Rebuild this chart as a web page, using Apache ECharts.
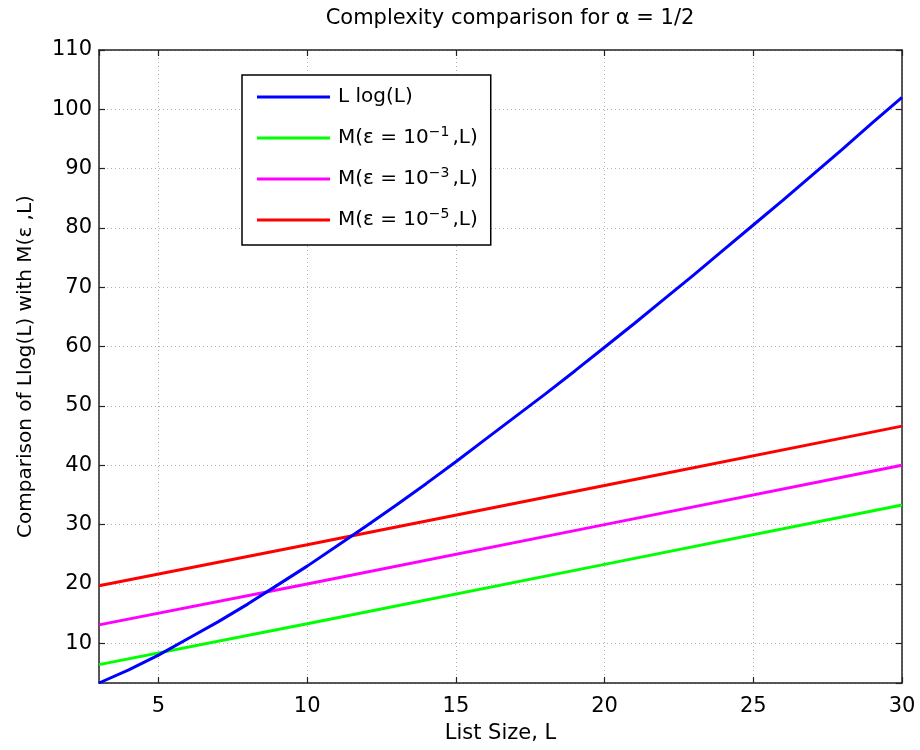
<!DOCTYPE html>
<html>
<head>
<meta charset="utf-8">
<script src="https://cdn.jsdelivr.net/npm/echarts@6/dist/echarts.min.js"></script>
<style>
html,body{margin:0;padding:0;background:#fff;}
#chart{width:920px;height:750px;}
</style>
</head>
<body>
<div id="chart"></div>
<script>
// ---- data ----
const titleText = 'Complexity comparison for α = 1/2';
const xAxisName = 'List Size, L';
const yAxisName = 'Comparison of Llog(L) with M(ε ,L)';

const blueL = [3,4,5,6,7,8,9,10,11,12,13,14,15,16,17,18,19,20,21,22,23,24,25,26,27,28,29,30];
const blueValues = [3.3,5.5,8.0,10.8,13.6,16.6,19.8,23.0,26.4,29.8,33.3,36.9,40.6,44.4,48.2,52.0,55.9,59.9,63.9,68.0,72.1,76.3,80.5,84.7,89.0,93.3,97.7,102.0];

const lineL = [3,10,20,30];
const greenValues = [6.4,13.3,23.3,33.3];
const magentaValues = [13.1,20.0,30.0,40.0];
const redValues = [19.7,26.6,36.6,46.6];

const seriesNames = ['L log(L)','M1','M3','M5'];
const legendLabels = {
  'L log(L)': '{t|L log(L)}',
  'M1': '{t|M(ε = 10}{s|−1}{t|,L)}',
  'M3': '{t|M(ε = 10}{s|−3}{t|,L)}',
  'M5': '{t|M(ε = 10}{s|−5}{t|,L)}'
};
const colors = ['#0000ff','#00ff00','#ff00ff','#ff0000'];

const xMin = 3, xMax = 30;
const yMin = 3.3, yMax = 110;

function pairs(xs, ys){ return xs.map((x,i)=>[x, ys[i]]); }

const FONT = '"DejaVu Sans", Verdana, sans-serif';
const axisColor = '#222';
const gridLine = {show:true, lineStyle:{color:'#b0b0b0', width:1, type:[1,3]}};

const chart = echarts.init(document.getElementById('chart'), null, {renderer:'canvas'});
chart.setOption({
  backgroundColor:'#fff',
  animation:false,
  title:{
    text:titleText, left:505, top:3, textAlign:'center',
    textStyle:{fontFamily:FONT, fontSize:21, fontWeight:'normal', color:'#000'}
  },
  grid:{left:99, right:18, top:50, bottom:67, containLabel:false},
  legend:{
    orient:'vertical', left:242, top:75,
    data:seriesNames.map((n,i)=>({name:n, icon:'rect', itemStyle:{color:colors[i]}})),
    itemWidth:73, itemHeight:3, itemGap:15,
    padding:[9,13,12,15],
    borderColor:'#000', borderWidth:1.5, backgroundColor:'#fff',
    formatter:function(n){ return legendLabels[n]; },
    textStyle:{
      fontFamily:FONT, fontSize:20, color:'#000', lineHeight:26,
      rich:{
        t:{fontFamily:FONT, fontSize:20, color:'#000', lineHeight:26, padding:[0,0,0,3]},
        s:{fontFamily:FONT, fontSize:14, color:'#000', verticalAlign:'top', lineHeight:10}
      }
    }
  },
  xAxis:[{
    type:'value', min:xMin, max:xMax, splitNumber:6, position:'bottom',
    name:xAxisName, nameLocation:'middle', nameGap:40,
    nameTextStyle:{fontFamily:FONT, fontSize:21, color:'#000'},
    axisLine:{show:true, onZero:false, lineStyle:{color:axisColor, width:1.5}},
    axisTick:{show:true, inside:true, length:6, lineStyle:{color:axisColor, width:1.2}},
    axisLabel:{fontFamily:FONT, fontSize:21, color:'#000', margin:13, showMinLabel:false},
    splitLine:gridLine
  },{
    type:'value', min:xMin, max:xMax, splitNumber:6, position:'top',
    axisLine:{show:true, onZero:false, lineStyle:{color:axisColor, width:1.5}},
    axisTick:{show:true, inside:true, length:6, lineStyle:{color:axisColor, width:1.2}},
    axisLabel:{show:false}, splitLine:{show:false}
  }],
  yAxis:[{
    type:'value', min:yMin, max:yMax, splitNumber:11, position:'left',
    name:yAxisName, nameLocation:'middle', nameGap:63, nameRotate:90,
    nameTextStyle:{fontFamily:FONT, fontSize:20, color:'#000'},
    axisLine:{show:true, onZero:false, lineStyle:{color:axisColor, width:1.5}},
    axisTick:{show:true, inside:true, length:6, lineStyle:{color:axisColor, width:1.2}},
    axisLabel:{fontFamily:FONT, fontSize:21, color:'#000', margin:7, showMinLabel:false},
    splitLine:gridLine
  },{
    type:'value', min:yMin, max:yMax, splitNumber:11, position:'right',
    axisLine:{show:true, onZero:false, lineStyle:{color:axisColor, width:1.5}},
    axisTick:{show:true, inside:true, length:6, lineStyle:{color:axisColor, width:1.2}},
    axisLabel:{show:false}, splitLine:{show:false}
  }],
  series:[
    {name:seriesNames[0], type:'line', data:pairs(blueL, blueValues), showSymbol:false, symbol:'none', lineStyle:{color:colors[0], width:3}, itemStyle:{color:colors[0]}, z:5},
    {name:seriesNames[1], type:'line', data:pairs(lineL, greenValues), showSymbol:false, symbol:'none', lineStyle:{color:colors[1], width:3}, itemStyle:{color:colors[1]}, z:4},
    {name:seriesNames[2], type:'line', data:pairs(lineL, magentaValues), showSymbol:false, symbol:'none', lineStyle:{color:colors[2], width:3}, itemStyle:{color:colors[2]}, z:4},
    {name:seriesNames[3], type:'line', data:pairs(lineL, redValues), showSymbol:false, symbol:'none', lineStyle:{color:colors[3], width:3}, itemStyle:{color:colors[3]}, z:4}
  ]
});
</script>
</body>
</html>
